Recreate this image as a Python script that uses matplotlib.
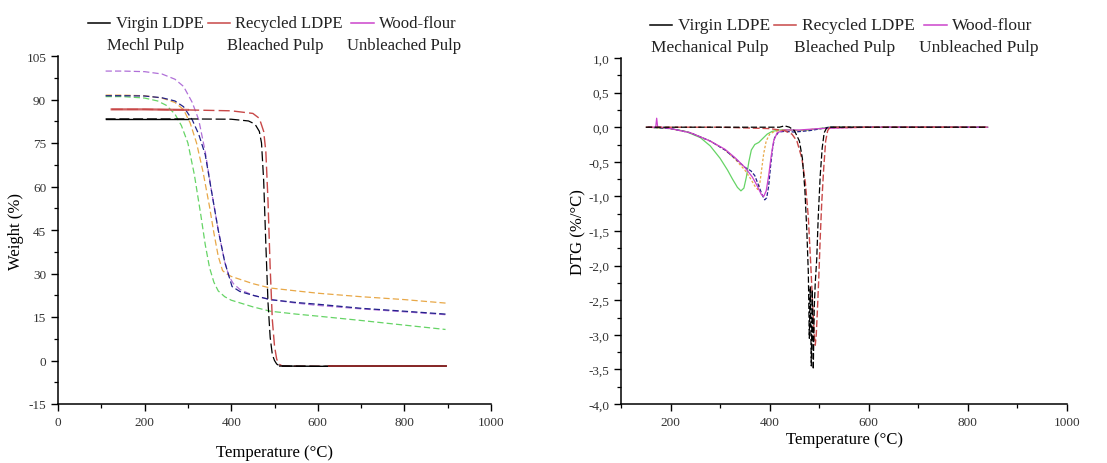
import matplotlib
matplotlib.use("Agg")
import matplotlib.pyplot as plt
from matplotlib.ticker import MultipleLocator, FuncFormatter
from matplotlib.offsetbox import DrawingArea, TextArea, HPacker, VPacker, AnchoredOffsetbox
from matplotlib.lines import Line2D

plt.rcParams['font.family'] = ['Liberation Serif', 'DejaVu Serif']
plt.rcParams['axes.unicode_minus'] = False

# ---------------- TGA data (left) ----------------
tga_black_T = [110, 200, 300, 400, 440, 455, 465, 470, 475, 480, 485, 490, 495, 500, 505, 512, 600, 700, 800, 895]
tga_black_W = [83.3, 83.3, 83.3, 83.2, 82.6, 81.5, 79, 75, 62, 40, 20, 8, 2, 0, -1.2, -1.9, -2, -2, -2, -2]

tga_red_T = [124, 200, 300, 400, 450, 465, 475, 480, 485, 490, 495, 500, 505, 510, 518, 625, 700, 800, 895]
tga_red_W = [86.6, 86.6, 86.4, 86.1, 85.2, 83.5, 79, 72, 55, 32, 14, 5, 0.5, -1.2, -1.9, -2, -2, -2, -2]

tga_wood_T = [110, 150, 200, 240, 270, 290, 310, 325, 340, 355, 370, 385, 395, 405, 420, 450, 490, 550, 600, 700, 800, 895]
tga_wood_W = [99.8, 99.8, 99.6, 98.8, 97, 94.5, 89, 83, 72, 58, 45, 34, 29, 26.5, 24.5, 22.5, 21, 19.8, 19, 17.8, 16.8, 15.8]

tga_navy_T = [110, 150, 200, 240, 270, 290, 310, 325, 340, 355, 370, 385, 395, 402, 420, 450, 490, 550, 600, 700, 800, 895]
tga_navy_W = [91.3, 91.3, 91.2, 90.6, 89.5, 87.5, 83, 78, 71, 58, 45, 34, 29, 25.5, 23.8, 22.5, 21, 20, 19.4, 18, 17, 16]

tga_orange_T = [110, 150, 200, 240, 270, 290, 305, 320, 335, 350, 360, 370, 380, 390, 400, 450, 490, 550, 600, 700, 800, 895]
tga_orange_W = [91.5, 91.5, 91.3, 90.5, 89, 86.5, 82, 75, 65, 53, 44, 36, 31, 29.8, 29, 26.5, 25, 24, 23.2, 22, 21, 19.8]

tga_green_T = [110, 150, 200, 230, 250, 270, 285, 300, 315, 330, 340, 350, 360, 370, 385, 400, 450, 490, 550, 600, 700, 800, 895]
tga_green_W = [91, 91, 90.5, 89.5, 88, 85, 81, 75, 64, 50, 40, 32, 27, 24, 22, 20.8, 18.5, 17, 16, 15.3, 13.8, 12.2, 10.7]

# ---------------- DTG data (right) ----------------
dtg_black_T = [150, 300, 420, 430, 440, 450, 460, 466, 471, 475, 478, 480, 482, 484, 486, 488, 490, 492, 495, 498, 502, 506, 510, 515, 520, 600, 700, 840]
dtg_black_D = [0, 0, 0, 0.02, 0, -0.05, -0.2, -0.45, -0.9, -1.5, -2.1, -3.05, -2.3, -3.45, -2.35, -3.5, -2.6, -2.25, -1.9, -1.3, -0.7, -0.3, -0.08, -0.01, 0, 0, 0, 0]

dtg_red_T = [150, 300, 400, 430, 445, 455, 465, 472, 478, 483, 487, 490, 492, 494, 496, 499, 502, 505, 509, 513, 517, 522, 600, 700, 840]
dtg_red_D = [0, 0, -0.02, -0.05, -0.1, -0.2, -0.45, -0.8, -1.3, -2.0, -2.6, -3.0, -3.15, -3.0, -2.7, -2.2, -1.6, -1.1, -0.6, -0.2, -0.05, 0, 0, 0, 0]

dtg_wood_T = [155, 165, 170, 172, 174, 180, 200, 240, 280, 310, 330, 350, 365, 375, 383, 388, 393, 398, 403, 408, 415, 430, 460, 500, 600, 700, 840]
dtg_wood_D = [0, 0, 0, 0.13, 0, 0, -0.02, -0.08, -0.2, -0.32, -0.44, -0.58, -0.72, -0.85, -0.97, -1.0, -0.92, -0.7, -0.42, -0.2, -0.08, -0.04, -0.04, -0.02, 0, 0, 0]

dtg_navy_T = [155, 200, 240, 280, 310, 330, 350, 362, 370, 378, 385, 390, 394, 398, 402, 406, 410, 418, 430, 450, 480, 505, 520, 600, 700, 840]
dtg_navy_D = [0, -0.02, -0.08, -0.2, -0.33, -0.45, -0.58, -0.63, -0.7, -0.85, -0.98, -1.05, -1.02, -0.85, -0.55, -0.3, -0.15, -0.07, -0.06, -0.07, -0.05, -0.02, 0, 0, 0, 0]

dtg_orange_T = [155, 200, 240, 280, 310, 330, 350, 362, 370, 376, 380, 384, 388, 393, 400, 410, 430, 460, 500, 600, 700, 840]
dtg_orange_D = [0, -0.02, -0.08, -0.2, -0.33, -0.46, -0.62, -0.75, -0.85, -0.9, -0.82, -0.6, -0.38, -0.2, -0.1, -0.06, -0.04, -0.05, -0.02, 0, 0, 0]

dtg_green_T = [155, 200, 230, 260, 280, 300, 315, 325, 335, 342, 348, 353, 358, 363, 370, 378, 385, 395, 405, 420, 440, 460, 480, 500, 520, 600, 700, 840]
dtg_green_D = [0, -0.02, -0.06, -0.15, -0.27, -0.45, -0.62, -0.75, -0.87, -0.92, -0.88, -0.72, -0.5, -0.33, -0.25, -0.22, -0.17, -0.1, -0.06, -0.04, -0.04, -0.05, -0.04, -0.02, 0, 0, 0, 0]

left_row1 = ["Virgin LDPE", "Recycled LDPE", "Wood-flour"]
left_row2 = ["Mechl Pulp", "Bleached Pulp", "Unbleached Pulp"]
right_row1 = ["Virgin LDPE", "Recycled LDPE", "Wood-flour"]
right_row2 = ["Mechanical Pulp", "Bleached Pulp", "Unbleached Pulp"]

C_BLACK = "#000000"
C_RED = "#c84848"
C_DRED = "#8a2a2a"
C_MAG = "#cc44cc"
C_VIO = "#b070d8"
C_NAVY = "#22228a"
C_ORANGE = "#e8a848"
C_GREEN = "#66d466"

fig = plt.figure(figsize=(11.07, 4.64), dpi=100)
axL = fig.add_axes([58/1107, 59/464, 433/1107, 348/464])
axR = fig.add_axes([621/1107, 59/464, 446/1107, 346/464])

dash = (0, (5, 2.5))
axL.plot(tga_green_T, tga_green_W, color=C_GREEN, lw=0.9, ls=dash)
axL.plot(tga_orange_T, tga_orange_W, color=C_ORANGE, lw=0.9, ls=dash)
axL.plot(tga_wood_T, tga_wood_W, color=C_VIO, lw=0.9, ls=dash)
axL.plot(tga_navy_T, tga_navy_W, color=C_NAVY, lw=0.9, ls=dash)
axL.plot(tga_red_T, tga_red_W, color=C_RED, lw=1.0, ls=(0, (8, 3)))
axL.plot(tga_black_T, tga_black_W, color=C_BLACK, lw=0.9, ls=(0, (8, 3)))
# solid plateau segments (start and char plateau)
axL.plot(tga_red_T[:3], tga_red_W[:3], color=C_RED, lw=1.6, alpha=0.85)
axL.plot(tga_black_T[:3], tga_black_W[:3], color=C_BLACK, lw=1.0)
axL.plot(tga_black_T[-5:], tga_black_W[-5:], color=C_BLACK, lw=1.0)
axL.plot(tga_red_T[-4:], tga_red_W[-4:], color=C_DRED, lw=1.4)

axR.plot(dtg_green_T, dtg_green_D, color=C_GREEN, lw=0.9)
axR.plot(dtg_orange_T, dtg_orange_D, color=C_ORANGE, lw=0.9, ls=(0, (2, 1.5)))
axR.plot(dtg_navy_T, dtg_navy_D, color=C_NAVY, lw=0.9, ls=(0, (3, 1.5)))
axR.plot(dtg_wood_T, dtg_wood_D, color=C_MAG, lw=0.9)
axR.plot(dtg_red_T, dtg_red_D, color=C_RED, lw=1.0, ls=(0, (5, 2)))
axR.plot(dtg_black_T, dtg_black_D, color=C_BLACK, lw=0.9, ls=(0, (5, 2)))

def style(ax):
    for s in ("top", "right"):
        ax.spines[s].set_visible(False)
    for s in ("left", "bottom"):
        ax.spines[s].set_linewidth(1.1)
    ax.tick_params(which="major", direction="out", length=5, width=1.0, labelsize=9.5, labelcolor="#333333")
    ax.tick_params(which="minor", direction="out", length=3, width=0.9)

axL.set_xlim(0, 1000)
axL.set_ylim(-15, 105)
axL.xaxis.set_major_locator(MultipleLocator(200))
axL.xaxis.set_minor_locator(MultipleLocator(100))
axL.yaxis.set_major_locator(MultipleLocator(15))
axL.yaxis.set_minor_locator(MultipleLocator(7.5))
style(axL)
axL.set_xlabel("Temperature (°C)", fontsize=12, labelpad=12)
axL.set_ylabel("Weight (%)", fontsize=12, labelpad=2)

axR.set_xlim(100, 1000)
axR.set_ylim(-4, 1)
axR.xaxis.set_major_locator(MultipleLocator(200))
axR.xaxis.set_minor_locator(MultipleLocator(100))
axR.yaxis.set_major_locator(MultipleLocator(0.5))
axR.yaxis.set_minor_locator(MultipleLocator(0.25))
axR.yaxis.set_major_formatter(FuncFormatter(lambda v, p: f"{v:.1f}".replace(".", ",").replace("-0,0", "0,0")))
style(axR)
axR.set_xlabel("Temperature (°C)", fontsize=12, labelpad=2)
axR.set_ylabel("DTG (%/°C)", fontsize=12, labelpad=1)


def make_legend(ax, row1, row2, colors, fontsize, sep, y):
    tp = dict(fontsize=fontsize, color="#222222")
    cols = []
    for lab1, lab2, c in zip(row1, row2, colors):
        da = DrawingArea(16, 8, 0, 0)
        da.add_artist(Line2D([0, 16], [4, 4], color=c, lw=1.1))
        top = HPacker(children=[da, TextArea(lab1, textprops=tp)], align="center", pad=0, sep=4)
        bot = TextArea(lab2, textprops=tp)
        cols.append(VPacker(children=[top, bot], align="center", pad=0, sep=4))
    box = HPacker(children=cols, align="top", pad=0, sep=sep)
    anch = AnchoredOffsetbox(loc="lower center", child=box, pad=0, borderpad=0, frameon=False,
                             bbox_to_anchor=(0.5, y), bbox_transform=ax.transAxes)
    ax.add_artist(anch)

make_legend(axL, left_row1, left_row2, [C_BLACK, C_RED, C_MAG], 12, 3, 1.01)
make_legend(axR, right_row1, right_row2, [C_BLACK, C_RED, C_MAG], 12.5, 3, 1.01)

fig.savefig("out.png", dpi=100)
